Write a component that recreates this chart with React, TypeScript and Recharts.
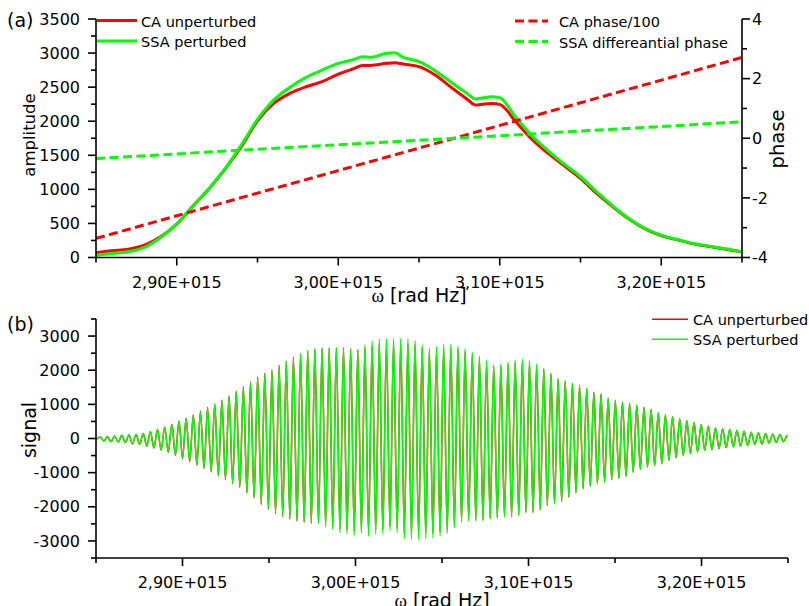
import React from 'react';
import { LineChart, Line, XAxis, YAxis } from 'recharts';

const RED = '#ff0000';
const GREEN = '#00ff00';
const INK = '#000000';
const FONT = '"DejaVu Sans", Verdana, sans-serif';
const SERIF = '"Liberation Serif", "DejaVu Serif", serif';

// ─── Panel (a): amplitude, omega in units of 1E+015 rad Hz ───────

const AMP_OMEGA = [
  2.85, 2.86, 2.87, 2.88, 2.89, 2.9, 2.91, 2.92, 2.93, 2.94, 2.95, 2.96, 2.97, 2.98, 2.99,
  3.0, 3.01, 3.015, 3.02, 3.03, 3.035, 3.04, 3.05, 3.06, 3.07, 3.08, 3.085, 3.09, 3.095,
  3.1, 3.11, 3.12, 3.13, 3.14, 3.15, 3.16, 3.17, 3.18, 3.19, 3.2, 3.21, 3.22, 3.23, 3.24, 3.25,
];
const CA_AMPLITUDE = [
  68, 98, 122, 181, 303, 489, 754, 1010, 1300, 1625, 2007, 2261, 2408, 2506, 2580,
  2692, 2775, 2819, 2819, 2849, 2858, 2839, 2800, 2677, 2496, 2320, 2237, 2252, 2261,
  2247, 1992, 1733, 1527, 1346, 1160, 940, 744, 565, 420, 322, 258, 200, 160, 122, 80,
];
const SSA_AMPLITUDE = [
  34, 59, 83, 147, 294, 489, 754, 1013, 1307, 1650, 2026, 2310, 2496, 2643, 2751,
  2849, 2907, 2947, 2937, 2996, 3005, 2940, 2873, 2741, 2570, 2403, 2325, 2345, 2359,
  2345, 2056, 1782, 1566, 1370, 1185, 964, 754, 573, 426, 328, 264, 206, 166, 127, 83,
];

// phases, right axis
const PHASE_OMEGA = [2.85, 2.95, 3.05, 3.15, 3.25];
const CA_PHASE = [-3.36, -1.84, -0.33, 1.19, 2.71];
const SSA_DIFF_PHASE = [-0.68, -0.37, -0.07, 0.24, 0.55];

// ─── Panel (b): signal, extrema of the oscillation ───────────────

const SIGNAL_START = -30;
const SIGNAL_OMEGA0 = 2.852486;
const SIGNAL_HALF_PERIOD = 0.00206735;

const SSA_PEAKS = [
  40, 50, 70, 90, 100, 115, 145, 195, 260, 320, 400, 500, 575, 675, 770, 880, 985, 1100, 1220, 1360,
  1485, 1630, 1770, 1885, 1965, 2120, 2245, 2375, 2490, 2580, 2640, 2657, 2657, 2657, 2640, 2610, 2610, 2736, 2862, 2912,
  2932, 2932, 2932, 2912, 2862, 2736, 2640, 2685, 2765, 2755, 2705, 2620, 2520, 2415, 2285, 2150, 2180, 2240, 2305, 2325,
  2275, 2180, 2050, 1905, 1740, 1680, 1610, 1555, 1465, 1350, 1300, 1175, 1110, 1060, 1025, 975, 910, 850, 750, 685,
  635, 565, 515, 470, 410, 360, 310, 285, 265, 235, 215, 185, 165, 145, 125, 115, 105,
];
const SSA_TROUGHS = [
  -70, -90, -100, -110, -150, -165, -215, -265, -325, -390, -470, -560, -655, -755, -850, -950, -1065, -1175, -1290, -1400,
  -1565, -1710, -1905, -2050, -2180, -2270, -2340, -2395, -2435, -2465, -2480, -2590, -2669, -2757, -2796, -2836, -2767, -2865, -2796, -2796,
  -2689, -2757, -2933, -2953, -2953, -2933, -2915, -2855, -2780, -2610, -2445, -2425, -2415, -2415, -2365, -2340, -2300, -2300, -2250, -2150,
  -2150, -2085, -1955, -1905, -1840, -1710, -1585, -1465, -1390, -1320, -1270, -1200, -1160, -1105, -980, -900, -830, -790, -735, -635,
  -560, -490, -440, -390, -345, -325, -295, -265, -245, -225, -205, -175, -160, -130, -115, -90,
];
const CA_PEAKS = [
  45, 55, 75, 95, 105, 120, 150, 205, 270, 335, 415, 515, 595, 695, 795, 905, 1010, 1130, 1250, 1390,
  1515, 1660, 1800, 1915, 2000, 2150, 2270, 2390, 2490, 2560, 2610, 2640, 2650, 2660, 2660, 2630, 2600, 2650, 2720, 2760,
  2790, 2800, 2800, 2790, 2750, 2650, 2560, 2580, 2650, 2650, 2620, 2550, 2450, 2350, 2220, 2110, 2120, 2170, 2230, 2250,
  2220, 2150, 2030, 1900, 1755, 1695, 1620, 1560, 1470, 1360, 1310, 1185, 1120, 1070, 1030, 980, 915, 855, 755, 690,
  640, 570, 520, 470, 410, 360, 310, 285, 262, 232, 212, 182, 162, 142, 122, 112, 100,
];
const CA_TROUGHS = [
  -75, -95, -105, -118, -158, -175, -228, -280, -342, -410, -492, -585, -682, -785, -880, -982, -1098, -1208, -1322, -1432,
  -1595, -1740, -1932, -2075, -2200, -2290, -2365, -2420, -2460, -2485, -2490, -2540, -2600, -2660, -2690, -2720, -2680, -2730, -2680, -2670,
  -2590, -2640, -2780, -2800, -2800, -2790, -2780, -2740, -2680, -2540, -2400, -2380, -2370, -2370, -2330, -2310, -2280, -2290, -2250, -2170,
  -2170, -2095, -1965, -1915, -1850, -1720, -1595, -1475, -1405, -1330, -1280, -1210, -1170, -1115, -990, -908, -838, -797, -740, -640,
  -565, -495, -444, -393, -348, -328, -298, -268, -247, -227, -207, -177, -162, -132, -117, -92,
];

// ─── Axis ticks ──────────────────────────────────────────────────

const X_TICKS = [2.85, 2.9, 2.95, 3.0, 3.05, 3.1, 3.15, 3.2, 3.25];
const AMP_TICKS = [0, 250, 500, 750, 1000, 1250, 1500, 1750, 2000, 2250, 2500, 2750, 3000, 3250, 3500];
const PHASE_TICKS = [-4, -3, -2, -1, 0, 1, 2, 3, 4];
const SIGNAL_TICKS = [-3500, -3000, -2500, -2000, -1500, -1000, -500, 0, 500, 1000, 1500, 2000, 2500, 3000, 3500];

// ─── Tables ──────────────────────────────────────────────────────

const topData = AMP_OMEGA.map((omega, i) => {
  const p = PHASE_OMEGA.indexOf(omega);
  return {
    omega,
    ca: CA_AMPLITUDE[i],
    ssa: SSA_AMPLITUDE[i],
    caPhase: p >= 0 ? CA_PHASE[p] : null,
    ssaPhase: p >= 0 ? SSA_DIFF_PHASE[p] : null,
  };
});

const signalData: { omega: number; ca: number; ssa: number }[] = [
  { omega: 2.85, ca: SIGNAL_START, ssa: SIGNAL_START },
];
SSA_PEAKS.forEach((peak, k) => {
  signalData.push({ omega: SIGNAL_OMEGA0 + 2 * k * SIGNAL_HALF_PERIOD, ca: CA_PEAKS[k], ssa: peak });
  if (k < SSA_TROUGHS.length) {
    signalData.push({
      omega: SIGNAL_OMEGA0 + (2 * k + 1) * SIGNAL_HALF_PERIOD,
      ca: CA_TROUGHS[k],
      ssa: SSA_TROUGHS[k],
    });
  }
});

// ─── Tick renderers ──────────────────────────────────────────────

const fmtOmega = (v: number) => v.toFixed(2).replace('.', ',') + 'E+015';

function XTick({ x, y, payload }: any) {
  const major = Math.round(payload.value * 100) % 10 === 0;
  return (
    <g>
      <line x1={x} y1={y} x2={x} y2={y + (major ? 8 : 5)} stroke={INK} strokeWidth={1.6} />
      {major && (
        <text x={x} y={y + 30} textAnchor="middle" fontSize={16} fontFamily={FONT} fill={INK}>
          {fmtOmega(payload.value)}
        </text>
      )}
    </g>
  );
}

const leftTick = (isMajor: (v: number) => boolean) =>
  function LeftTick({ x, y, payload }: any) {
    const major = isMajor(payload.value);
    return (
      <g>
        <line x1={x - (major ? 8 : 5)} y1={y} x2={x} y2={y} stroke={INK} strokeWidth={1.6} />
        {major && (
          <text x={x - 16} y={y + 5.7} textAnchor="end" fontSize={16} fontFamily={FONT} fill={INK}>
            {payload.value}
          </text>
        )}
      </g>
    );
  };

function PhaseTick({ x, y, payload }: any) {
  const major = payload.value % 2 === 0;
  return (
    <g>
      <line x1={x} y1={y} x2={x + (major ? 8 : 5)} y2={y} stroke={INK} strokeWidth={1.6} />
      {major && (
        <text x={x + 10} y={y + 5.7} textAnchor="start" fontSize={16} fontFamily={FONT} fill={INK}>
          {payload.value}
        </text>
      )}
    </g>
  );
}

const AmpTick = leftTick((v) => v % 500 === 0);
const SignalTick = leftTick((v) => v % 1000 === 0);

const axisLine = { stroke: INK, strokeWidth: 1.6 };

// ─── Overlay: legends, panel letters, axis titles ────────────────

function LegendRow({ x, y, color, dash, width, label }: any) {
  return (
    <g>
      <line x1={x} y1={y} x2={x + (dash ? 33 : 40)} y2={y} stroke={color} strokeWidth={width} strokeDasharray={dash} />
      <text x={x + (dash ? 44 : 44)} y={y + 6} fontSize={14.5} fontFamily={FONT} fill={INK}>
        {label}
      </text>
    </g>
  );
}

function Overlay() {
  return (
    <svg
      width={809}
      height={606}
      style={{ position: 'absolute', left: 0, top: 0, pointerEvents: 'none' }}
    >
      <text x={7} y={27} fontSize={19} fontFamily={FONT} fill={INK}>(a)</text>
      <text x={7} y={331} fontSize={19} fontFamily={FONT} fill={INK}>(b)</text>

      <text x={29} y={135} transform="rotate(-90 29 135)" textAnchor="middle" dominantBaseline="central" fontSize={16.5} fontFamily={FONT} fill={INK}>
        amplitude
      </text>
      <text x={777} y={139} transform="rotate(-90 777 139)" textAnchor="middle" dominantBaseline="central" fontSize={19.5} fontFamily={FONT} fill={INK}>
        phase
      </text>
      <text x={29} y={430} transform="rotate(-90 29 430)" textAnchor="middle" dominantBaseline="central" fontSize={19} fontFamily={FONT} fill={INK}>
        signal
      </text>

      <text x={419} y={302} textAnchor="middle" fontSize={19} fontFamily={FONT} fill={INK}>
        <tspan fontFamily={SERIF}>ω</tspan> [rad Hz]
      </text>
      <text x={442} y={607} textAnchor="middle" fontSize={19} fontFamily={FONT} fill={INK}>
        <tspan fontFamily={SERIF}>ω</tspan> [rad Hz]
      </text>

      <LegendRow x={97} y={20.5} color={RED} width={3} label="CA unperturbed" />
      <LegendRow x={97} y={41} color={GREEN} width={3} label="SSA perturbed" />
      <LegendRow x={515} y={21} color={RED} width={3} dash="9 4.5" label="CA phase/100" />
      <LegendRow x={515} y={41.5} color={GREEN} width={3} dash="9 4.5" label="SSA differeantial phase" />

      <line x1={652} y1={319.3} x2={688} y2={319.3} stroke={RED} strokeWidth={1.6} />
      <text x={693} y={325} fontSize={14.5} fontFamily={FONT} fill={INK}>CA unperturbed</text>
      <line x1={652} y1={339.3} x2={688} y2={339.3} stroke={GREEN} strokeWidth={1.6} />
      <text x={693} y={345} fontSize={14.5} fontFamily={FONT} fill={INK}>SSA perturbed</text>
    </svg>
  );
}

export default function App() {
  return (
    <div style={{ position: 'absolute', left: 0, top: 0, width: 809, height: 606, background: '#fff', overflow: 'hidden' }}>
      <div style={{ position: 'absolute', left: 0, top: 0 }}>
        <LineChart width={809} height={300} data={topData} margin={{ top: 19, right: 0, bottom: 0, left: 0 }}>
          <XAxis
            dataKey="omega"
            type="number"
            domain={[2.85, 3.25]}
            ticks={X_TICKS}
            interval={0}
            allowDataOverflow
            height={42.5}
            axisLine={axisLine}
            tickLine={false}
            tickSize={0}
            tickMargin={0}
            tick={(p: any) => <XTick {...p} />}
          />
          <YAxis
            yAxisId="amp"
            domain={[0, 3500]}
            ticks={AMP_TICKS}
            interval={0}
            allowDataOverflow
            width={96}
            axisLine={axisLine}
            tickLine={false}
            tickSize={0}
            tickMargin={0}
            tick={(p: any) => <AmpTick {...p} />}
          />
          <YAxis
            yAxisId="phase"
            orientation="right"
            domain={[-4, 4]}
            ticks={PHASE_TICKS}
            interval={0}
            allowDataOverflow
            width={67}
            axisLine={axisLine}
            tickLine={false}
            tickSize={0}
            tickMargin={0}
            tick={(p: any) => <PhaseTick {...p} />}
          />
          <Line yAxisId="amp" type="monotone" dataKey="ca" stroke={RED} strokeWidth={3} dot={false} activeDot={false} isAnimationActive={false} />
          <Line yAxisId="amp" type="monotone" dataKey="ssa" stroke={GREEN} strokeWidth={3} dot={false} activeDot={false} isAnimationActive={false} />
          <Line yAxisId="phase" type="linear" dataKey="caPhase" stroke={RED} strokeWidth={3} strokeDasharray="9 4.5" dot={false} activeDot={false} connectNulls isAnimationActive={false} />
          <Line yAxisId="phase" type="linear" dataKey="ssaPhase" stroke={GREEN} strokeWidth={3} strokeDasharray="9 4.5" dot={false} activeDot={false} connectNulls isAnimationActive={false} />
        </LineChart>
      </div>

      <div style={{ position: 'absolute', left: 0, top: 300 }}>
        <LineChart width={809} height={306} data={signalData} margin={{ top: 19, right: 21, bottom: 0, left: 0 }}>
          <XAxis
            dataKey="omega"
            type="number"
            domain={[2.85, 3.25]}
            ticks={X_TICKS}
            interval={0}
            allowDataOverflow
            height={48}
            axisLine={axisLine}
            tickLine={false}
            tickSize={0}
            tickMargin={0}
            tick={(p: any) => <XTick {...p} />}
          />
          <YAxis
            domain={[-3500, 3500]}
            ticks={SIGNAL_TICKS}
            interval={0}
            allowDataOverflow
            width={96}
            axisLine={axisLine}
            tickLine={false}
            tickSize={0}
            tickMargin={0}
            tick={(p: any) => <SignalTick {...p} />}
          />
          <Line type="monotone" dataKey="ca" stroke={RED} strokeWidth={1.5} dot={false} activeDot={false} isAnimationActive={false} />
          <Line type="monotone" dataKey="ssa" stroke={GREEN} strokeWidth={1.5} dot={false} activeDot={false} isAnimationActive={false} />
        </LineChart>
      </div>

      <Overlay />
    </div>
  );
}
